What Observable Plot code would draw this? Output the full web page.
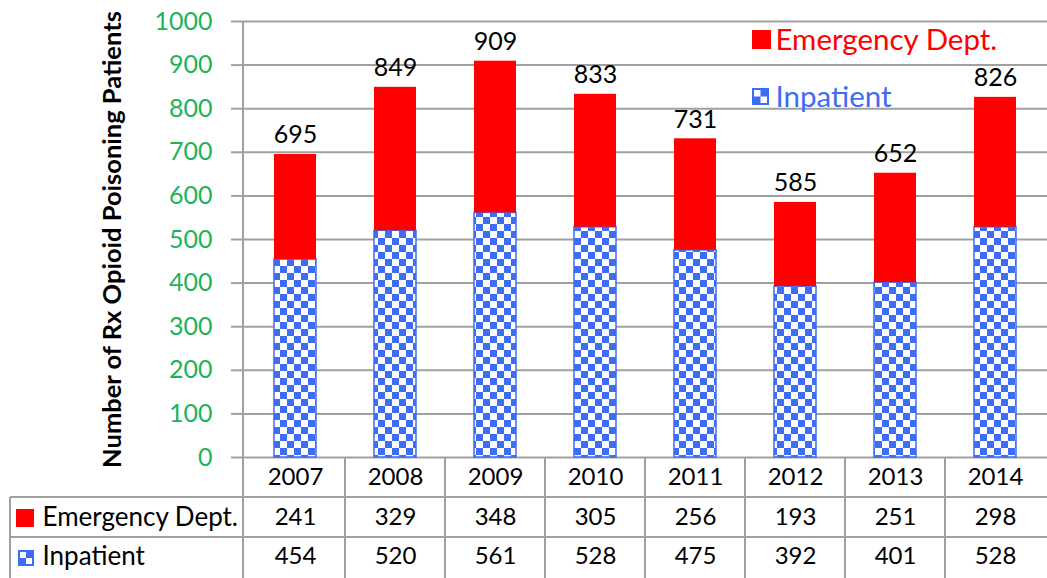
<!DOCTYPE html>
<html><head><meta charset="utf-8">
<script src="https://cdn.jsdelivr.net/npm/d3@7"></script>
<script src="https://cdn.jsdelivr.net/npm/@observablehq/plot@0.6"></script>
<style>
body{margin:0;background:#fff;}
#chart svg{display:block}
</style></head><body><div id="chart"></div>
<script>
// ---- data ----
const years = ["2007", "2008", "2009", "2010", "2011", "2012", "2013", "2014"];
const emergency = [241, 329, 348, 305, 256, 193, 251, 298];
const inpatient = [454, 520, 561, 528, 475, 392, 401, 528];
const yTicks = [0, 100, 200, 300, 400, 500, 600, 700, 800, 900, 1000];
const seriesNames = ["Emergency Dept.", "Inpatient"];
const yLabel = "Number of Rx Opioid Poisoning Patients";

const rows = years.map((year, i) => ({year, ed: emergency[i], inp: inpatient[i], total: emergency[i] + inpatient[i]}));

// ---- layout ----
const W = 1047, H = 578, mL = 243, mT = 21, mB = 121, mR = 0;
const FONT = "Lato, 'Open Sans', sans-serif";
const RED = "#ff0000", BLUE = "#3d6cf5", GREEN = "#1db35a", GRAY = "#a0a0a0";
const ROW = 40;
const inset = 29;
const mid = {lineAnchor: "middle"};

const chart = Plot.plot({
  width: W, height: H, marginLeft: mL, marginTop: mT, marginBottom: mB, marginRight: mR,
  style: {fontFamily: FONT, background: "white", overflow: "visible"},
  x: {domain: years, paddingInner: 0, paddingOuter: 0, axis: null},
  y: {domain: [0, 1000]},
  marks: [
    Plot.gridY(yTicks, {stroke: GRAY, strokeOpacity: 1, strokeWidth: 2}),
    Plot.axisY(yTicks, {tickSize: 12, tickPadding: 19, stroke: GRAY, strokeWidth: 2, fill: GREEN, fontSize: 25, label: null, tickFormat: d => String(d)}),
    Plot.barY(rows, {x: "year", y1: 0, y2: "inp", fill: "url(#checker)", stroke: BLUE, strokeWidth: 1.5, insetLeft: inset, insetRight: inset}),
    Plot.barY(rows, {x: "year", y1: "inp", y2: "total", fill: RED, insetLeft: inset, insetRight: inset}),
    Plot.text(rows, {x: "year", y: "total", text: d => String(d.total), dy: -19, fontSize: 25, fill: "black"}),
    // data table
    Plot.text(rows, {x: "year", text: "year", frameAnchor: "bottom", dy: ROW / 2, fontSize: 24, fill: "black", ...mid}),
    Plot.text(rows, {x: "year", text: d => String(d.ed), frameAnchor: "bottom", dy: ROW * 1.5, fontSize: 24, fill: "black", ...mid}),
    Plot.text(rows, {x: "year", text: d => String(d.inp), frameAnchor: "bottom", dy: ROW * 2.5 - 1, fontSize: 24, fill: "black", ...mid}),
    Plot.text([seriesNames[0]], {text: d => d, frameAnchor: "bottom-left", dx: -201, dy: ROW * 1.5, textAnchor: "start", fontSize: 26, fill: "black", ...mid}),
    Plot.text([seriesNames[1]], {text: d => d, frameAnchor: "bottom-left", dx: -201, dy: ROW * 2.5 - 1, textAnchor: "start", fontSize: 26, fill: "black", ...mid}),
    // legend
    Plot.text([seriesNames[0]], {text: d => d, frameAnchor: "top-left", dx: 532, dy: 19, textAnchor: "start", fontSize: 29.5, fill: RED, ...mid}),
    Plot.text([seriesNames[1]], {text: d => d, frameAnchor: "top-left", dx: 532, dy: 76, textAnchor: "start", fontSize: 29.5, fill: BLUE, ...mid}),
    // y label
    Plot.text([yLabel], {text: d => d, frameAnchor: "left", dx: -131, rotate: -90, textAnchor: "middle", fontWeight: "bold", fontSize: 25.5, fill: "black", ...mid})
  ]
});

const svg = d3.select(chart);
// checker pattern
const defs = svg.insert("defs", ":first-child");
const pat = defs.append("pattern").attr("id", "checker").attr("patternUnits", "userSpaceOnUse")
  .attr("width", 14).attr("height", 14);
pat.append("rect").attr("width", 14).attr("height", 14).attr("fill", "white");
pat.append("rect").attr("width", 7).attr("height", 7).attr("fill", BLUE);
pat.append("rect").attr("x", 7).attr("y", 7).attr("width", 7).attr("height", 7).attr("fill", BLUE);

// table lines
const xs = chart.scale("x");
const ys = chart.scale("y");
const y0 = ys.apply(0);
const lines = svg.append("g").attr("stroke", GRAY).attr("stroke-width", 2);
lines.append("line").attr("x1", mL).attr("x2", mL).attr("y1", ys.apply(1000)).attr("y2", H);
years.slice(1).forEach(y => {
  const x = xs.apply(y);
  lines.append("line").attr("x1", x).attr("x2", x).attr("y1", y0).attr("y2", H);
});
lines.append("line").attr("x1", 10).attr("x2", 10).attr("y1", y0 + ROW).attr("y2", H);
[1, 2].forEach(k => lines.append("line").attr("x1", 10).attr("x2", W).attr("y1", y0 + ROW * k).attr("y2", y0 + ROW * k));

// legend icons
function inpIcon(g, x, y, s) {
  g.append("rect").attr("x", x).attr("y", y).attr("width", s).attr("height", s).attr("fill", BLUE);
  g.append("rect").attr("x", x + 2).attr("y", y + 2).attr("width", s / 2 - 2).attr("height", s / 2 - 2).attr("fill", "white");
  g.append("rect").attr("x", x + s / 2).attr("y", y + s / 2).attr("width", s / 2 - 2).attr("height", s / 2 - 2).attr("fill", "white");
}
const icons = svg.append("g");
icons.append("rect").attr("x", 752).attr("y", mT + 9).attr("width", 19).attr("height", 19).attr("fill", RED);
inpIcon(icons, 752, mT + 67, 17);
icons.append("rect").attr("x", 16).attr("y", y0 + ROW + 12).attr("width", 18).attr("height", 18).attr("fill", RED);
inpIcon(icons, 18, y0 + ROW * 2 + 13, 16);

document.getElementById("chart").appendChild(chart);
</script></body></html>
